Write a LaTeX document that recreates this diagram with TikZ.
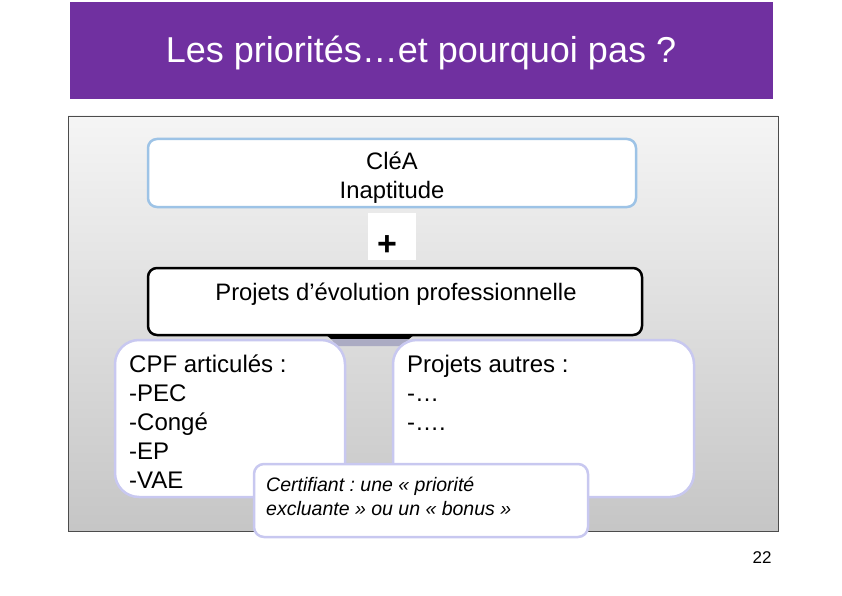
\documentclass[tikz,border=0pt]{standalone}
\usepackage{fontspec}
\setmainfont{Liberation Sans}
\definecolor{titlepurple}{HTML}{7030A0}
\definecolor{lightblue}{HTML}{9DC3E6}
\definecolor{lavender}{HTML}{C8C8F0}
\frenchspacing
\begin{document}
\begin{tikzpicture}[x=1pt,y=-1pt,
  box/.style={draw, fill=white, inner sep=0pt, line width=2.5pt},
  txt/.style={inner sep=0pt, anchor=base west, font=\fontsize{24}{28}\selectfont},
  ctxt/.style={inner sep=0pt, anchor=base, font=\fontsize{23.8}{28}\selectfont},
  itxt/.style={inner sep=0pt, anchor=base west, font=\fontsize{19.5}{22}\selectfont\itshape}]
\useasboundingbox (0,0) rectangle (842,596);
% title
\node[fill=titlepurple, minimum width=703pt, minimum height=97pt, inner sep=0pt] (titlebar) at (421.5,50.5) {};
\node[inner sep=0pt, anchor=base, text=white, font=\fontsize{36}{40}\selectfont] (title) at (421,63) {Les priorités…et pourquoi pas ?};
% panel
\node[draw=gray!60!black, line width=0.8pt, top color=gray!8, bottom color=gray!45, minimum width=710pt, minimum height=415pt, inner sep=0pt] (panel) at (423,323.5) {};
% CléA
\node[box, draw=lightblue, rounded corners=9pt, minimum width=488pt, minimum height=68pt] (clea) at (392,173) {};
\node[ctxt] (clea1) at (392,169) {CléA};
\node[ctxt] (clea2) at (392,198) {Inaptitude};
% plus
\node[fill=white, minimum width=48pt, minimum height=47pt, inner sep=0pt] (plus) at (392,236.5) {};
\node[inner sep=0pt, anchor=base, font=\fontsize{34}{38}\selectfont\bfseries] (plustxt) at (387,255) {+};
% projets
\node[box, draw=black, rounded corners=9pt, minimum width=494pt, minimum height=67pt] (projets) at (395,301.5) {};
\node[ctxt] (projtxt) at (396,300) {Projets d’évolution professionnelle};
% tab under projets
\fill[black] (325,334) -- (415,334) -- (409,339) -- (331,339) -- cycle;
\fill[lavender!60!gray] (331,339) -- (409,339) -- (403,346) -- (337,346) -- cycle;
% CPF
\node[box, draw=lavender, rounded corners=24pt, minimum width=230pt, minimum height=157pt] (cpf) at (230,418.5) {};
\node[txt] (cpf1) at (129,372) {CPF articulés :};
\node[txt] (cpf2) at (129,401) {-PEC};
\node[txt] (cpf3) at (129,430) {-Congé};
\node[txt] (cpf4) at (129,459) {-EP};
\node[txt] (cpf5) at (129,488) {-VAE};
% autres
\node[box, draw=lavender, rounded corners=24pt, minimum width=301pt, minimum height=157pt] (autres) at (543.5,418.5) {};
\node[txt] (aut1) at (407,372) {Projets autres :};
\node[txt] (aut2) at (407,401) {-…};
\node[txt] (aut3) at (407,430) {-….};
% certifiant
\node[box, draw=lavender, rounded corners=10pt, minimum width=334pt, minimum height=73pt] (certif) at (421,500.5) {};
\node[itxt] (cert1) at (266,491) {Certifiant : une « priorité};
\node[itxt] (cert2) at (266,515) {excluante » ou un « bonus »};
% page number
\node[inner sep=0pt, anchor=base, font=\fontsize{17}{20}\selectfont] (pagenum) at (762,563) {22};
\end{tikzpicture}
\end{document}
